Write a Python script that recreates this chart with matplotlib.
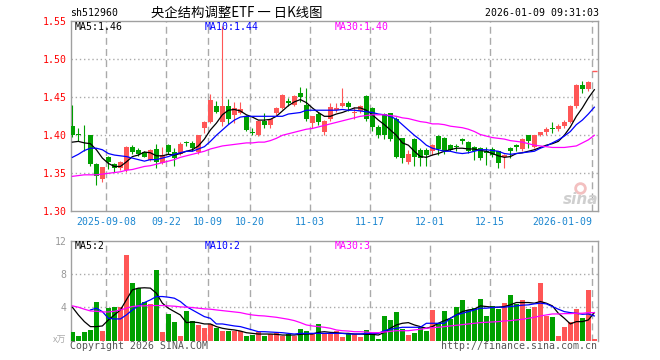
import matplotlib
matplotlib.use("Agg")
import matplotlib.pyplot as plt
import numpy as np

# daily candles, 2025-08-29 .. 2026-01-09 (88 sessions)
opens = [1.412, 1.402, 1.389, 1.400, 1.362, 1.343, 1.371, 1.362, 1.357, 1.354,
         1.385, 1.381, 1.378, 1.368, 1.382, 1.364, 1.387, 1.378, 1.375, 1.391,
         1.390, 1.378, 1.409, 1.418, 1.439, 1.418, 1.439, 1.427, 1.429, 1.425,
         1.404, 1.400, 1.419, 1.414, 1.430, 1.436, 1.445, 1.440, 1.456, 1.440,
         1.416, 1.428, 1.405, 1.421, 1.433, 1.439, 1.442, 1.430, 1.432, 1.452,
         1.436, 1.411, 1.428, 1.429, 1.422, 1.396, 1.365, 1.395, 1.381, 1.381,
         1.379, 1.399, 1.397, 1.387, 1.386, 1.395, 1.391, 1.385, 1.383, 1.379,
         1.382, 1.379, 1.372, 1.383, 1.387, 1.382, 1.400, 1.384, 1.400, 1.405,
         1.409, 1.408, 1.412, 1.418, 1.438, 1.466, 1.461, 1.485]
highs = [1.440, 1.410, 1.414, 1.400, 1.364, 1.358, 1.373, 1.364, 1.366, 1.386,
         1.387, 1.383, 1.380, 1.382, 1.389, 1.385, 1.389, 1.383, 1.391, 1.393,
         1.392, 1.401, 1.419, 1.454, 1.445, 1.544, 1.448, 1.444, 1.444, 1.427,
         1.409, 1.420, 1.430, 1.422, 1.437, 1.455, 1.449, 1.453, 1.464, 1.462,
         1.426, 1.431, 1.420, 1.442, 1.442, 1.462, 1.445, 1.437, 1.440, 1.453,
         1.437, 1.413, 1.430, 1.430, 1.424, 1.397, 1.381, 1.397, 1.383, 1.383,
         1.388, 1.400, 1.398, 1.388, 1.389, 1.396, 1.392, 1.386, 1.385, 1.385,
         1.384, 1.380, 1.375, 1.384, 1.389, 1.397, 1.401, 1.401, 1.405, 1.411,
         1.417, 1.415, 1.420, 1.440, 1.467, 1.471, 1.472, 1.485]
lows = [1.398, 1.392, 1.380, 1.359, 1.334, 1.338, 1.356, 1.352, 1.355, 1.352,
        1.376, 1.373, 1.371, 1.366, 1.357, 1.362, 1.376, 1.360, 1.374, 1.386,
        1.380, 1.376, 1.403, 1.416, 1.429, 1.412, 1.415, 1.416, 1.428, 1.406,
        1.400, 1.399, 1.409, 1.409, 1.427, 1.435, 1.439, 1.438, 1.444, 1.419,
        1.409, 1.414, 1.400, 1.419, 1.431, 1.437, 1.432, 1.422, 1.430, 1.419,
        1.406, 1.396, 1.395, 1.392, 1.370, 1.363, 1.362, 1.359, 1.360, 1.360,
        1.374, 1.374, 1.376, 1.379, 1.379, 1.388, 1.377, 1.368, 1.368, 1.361,
        1.372, 1.357, 1.357, 1.370, 1.380, 1.380, 1.383, 1.383, 1.399, 1.400,
        1.403, 1.406, 1.410, 1.416, 1.436, 1.456, 1.458, 1.485]
closes = [1.400, 1.401, 1.388, 1.362, 1.347, 1.358, 1.365, 1.357, 1.365, 1.385,
          1.378, 1.375, 1.372, 1.381, 1.365, 1.374, 1.378, 1.370, 1.389, 1.390,
          1.383, 1.400, 1.418, 1.447, 1.431, 1.439, 1.421, 1.436, 1.434, 1.407,
          1.403, 1.419, 1.414, 1.421, 1.436, 1.453, 1.443, 1.452, 1.450, 1.421,
          1.425, 1.418, 1.419, 1.437, 1.436, 1.443, 1.437, 1.431, 1.439, 1.421,
          1.411, 1.401, 1.401, 1.395, 1.371, 1.370, 1.375, 1.371, 1.370, 1.374,
          1.387, 1.382, 1.379, 1.381, 1.385, 1.392, 1.379, 1.380, 1.370, 1.377,
          1.374, 1.363, 1.374, 1.379, 1.384, 1.395, 1.392, 1.400, 1.404, 1.408,
          1.408, 1.412, 1.418, 1.439, 1.466, 1.461, 1.470, 1.485]

ma5 = [1.391, 1.392, 1.390, 1.389, 1.381, 1.370, 1.363, 1.359, 1.359, 1.365,
       1.372, 1.374, 1.378, 1.377, 1.373, 1.373, 1.375, 1.374, 1.376, 1.379,
       1.381, 1.386, 1.395, 1.407, 1.416, 1.427, 1.433, 1.434, 1.432, 1.427,
       1.424, 1.420, 1.420, 1.421, 1.425, 1.432, 1.439, 1.444, 1.447, 1.443,
       1.436, 1.430, 1.425, 1.425, 1.428, 1.430, 1.433, 1.436, 1.436, 1.433,
       1.427, 1.420, 1.414, 1.407, 1.400, 1.390, 1.387, 1.379, 1.372, 1.371,
       1.374, 1.376, 1.379, 1.381, 1.383, 1.383, 1.382, 1.382, 1.380, 1.379,
       1.376, 1.373, 1.371, 1.372, 1.376, 1.377, 1.379, 1.381, 1.384, 1.387,
       1.389, 1.392, 1.400, 1.411, 1.425, 1.436, 1.449, 1.460]
ma10 = [1.371, 1.375, 1.380, 1.383, 1.383, 1.381, 1.376, 1.374, 1.373, 1.372,
        1.370, 1.368, 1.366, 1.368, 1.368, 1.370, 1.372, 1.375, 1.377, 1.379,
        1.379, 1.382, 1.385, 1.392, 1.400, 1.407, 1.414, 1.420, 1.424, 1.425,
        1.425, 1.425, 1.425, 1.425, 1.425, 1.425, 1.428, 1.429, 1.430, 1.433,
        1.433, 1.433, 1.433, 1.433, 1.433, 1.434, 1.433, 1.433, 1.432, 1.431,
        1.430, 1.428, 1.427, 1.425, 1.421, 1.414, 1.407, 1.400, 1.394, 1.387,
        1.383, 1.381, 1.379, 1.379, 1.377, 1.376, 1.377, 1.379, 1.381, 1.381,
        1.380, 1.379, 1.376, 1.375, 1.376, 1.377, 1.378, 1.379, 1.383, 1.386,
        1.390, 1.394, 1.399, 1.405, 1.414, 1.420, 1.428, 1.437]
ma30 = [1.346, 1.347, 1.348, 1.348, 1.348, 1.349, 1.350, 1.351, 1.352, 1.354,
        1.355, 1.357, 1.359, 1.360, 1.362, 1.364, 1.366, 1.368, 1.371, 1.373,
        1.375, 1.377, 1.379, 1.382, 1.384, 1.386, 1.387, 1.388, 1.389, 1.390,
        1.390, 1.391, 1.391, 1.393, 1.396, 1.400, 1.402, 1.404, 1.406, 1.408,
        1.409, 1.411, 1.413, 1.415, 1.417, 1.419, 1.421, 1.423, 1.425, 1.426,
        1.427, 1.427, 1.427, 1.426, 1.425, 1.423, 1.422, 1.420, 1.418, 1.417,
        1.415, 1.415, 1.414, 1.412, 1.411, 1.410, 1.408, 1.405, 1.401, 1.399,
        1.397, 1.396, 1.395, 1.393, 1.392, 1.391, 1.389, 1.387, 1.386, 1.385,
        1.384, 1.384, 1.384, 1.385, 1.386, 1.390, 1.394, 1.400]

# volume, 10k lots
volume = [1.04, 0.56, 1.04, 1.29, 4.66, 1.16, 3.98, 4.06, 4.02, 10.3,
          6.95, 6.27, 4.66, 4.42, 8.51, 1.04, 3.21, 2.25, 0.56, 3.57,
          2.33, 1.93, 1.53, 2.05, 1.53, 1.16, 1.16, 1.16, 1.20, 0.56,
          0.68, 1.04, 0.56, 0.76, 0.88, 0.56, 0.76, 0.56, 1.41, 1.16,
          0.88, 2.01, 0.88, 0.88, 1.20, 0.48, 0.96, 0.76, 0.40, 1.29,
          0.96, 0.24, 2.97, 2.49, 3.45, 1.37, 0.68, 0.96, 1.61, 1.16,
          3.69, 2.17, 3.57, 2.65, 4.06, 4.90, 3.69, 3.90, 5.02, 2.97,
          4.18, 3.86, 4.50, 5.50, 4.42, 4.94, 3.82, 4.06, 6.95, 2.97,
          2.85, 0.56, 1.65, 2.25, 3.82, 2.73, 6.10, 0.20]
vma5 = [4.02, 3.09, 2.29, 1.69, 1.69, 1.77, 2.49, 3.09, 3.69, 4.90,
        6.10, 6.31, 6.35, 6.31, 5.70, 4.50, 3.90, 3.49, 3.09, 2.17,
        2.25, 2.17, 2.01, 2.01, 1.69, 1.49, 1.37, 1.29, 1.16, 0.96,
        0.88, 0.80, 0.80, 0.80, 0.76, 0.68, 0.68, 0.68, 0.76, 0.80,
        0.80, 1.00, 1.08, 1.00, 0.96, 0.88, 0.88, 0.80, 0.80, 0.76,
        0.76, 0.68, 1.00, 1.49, 1.89, 2.09, 2.17, 1.89, 1.69, 1.49,
        1.69, 2.09, 2.41, 2.69, 3.09, 3.49, 3.69, 3.78, 4.18, 4.10,
        4.02, 4.02, 4.10, 4.30, 4.58, 4.58, 4.58, 4.50, 4.70, 4.50,
        4.18, 3.29, 2.69, 2.01, 2.29, 2.29, 2.49, 3.37]
vma10 = [np.nan, np.nan, np.nan, 3.69, 3.90, 3.49, 2.69, 2.61, 2.61, 3.09,
         3.69, 4.18, 4.58, 4.90, 5.30, 5.30, 5.22, 5.10, 4.70, 4.10,
         3.69, 3.29, 2.89, 2.69, 2.01, 2.01, 1.89, 1.77, 1.69, 1.49,
         1.29, 1.08, 1.08, 1.04, 1.00, 0.96, 0.88, 0.80, 0.88, 0.88,
         0.88, 0.88, 0.88, 0.88, 0.88, 0.88, 0.80, 0.80, 0.80, 0.88,
         0.88, 0.88, 1.20, 1.37, 1.49, 1.61, 1.61, 1.61, 1.61, 2.09,
         2.09, 2.09, 2.09, 2.69, 3.09, 3.29, 3.49, 3.69, 3.90, 3.90,
         3.98, 4.02, 4.02, 4.10, 4.18, 4.26, 4.30, 4.42, 4.50, 4.42,
         4.10, 3.78, 3.49, 3.37, 3.29, 3.17, 3.21, 2.97]
vma30 = [4.18, 4.02, 3.78, 3.57, 3.53, 3.45, 3.45, 3.53, 3.69, 3.90,
         4.10, 4.18, 4.18, 4.22, 4.22, 4.22, 4.18, 4.14, 4.06, 4.02,
         3.98, 3.90, 3.82, 3.78, 3.69, 3.61, 3.53, 3.45, 3.37, 3.21,
         3.09, 3.01, 2.97, 2.89, 2.81, 2.69, 2.57, 2.41, 2.17, 1.89,
         1.77, 1.69, 1.61, 1.49, 1.29, 1.20, 1.16, 1.08, 1.08, 1.04,
         0.96, 0.96, 1.04, 1.12, 1.20, 1.20, 1.20, 1.29, 1.37, 1.49,
         1.57, 1.61, 1.69, 1.77, 1.85, 1.93, 2.01, 2.09, 2.17, 2.21,
         2.25, 2.29, 2.37, 2.41, 2.49, 2.57, 2.69, 2.81, 2.97, 3.09,
         3.21, 3.21, 3.25, 3.25, 3.29, 3.29, 3.37, 3.37]

tick_idx = [6, 16, 23, 30, 40, 50, 60, 70, 87]
tick_labels = ["2025-09-08", "09-22", "10-09", "10-20", "11-03",
               "11-17", "12-01", "12-15", "2026-01-09"]

RED = "#ff5656"
GREEN = "#00a000"
GRID = "#aaaaaa"
BLUE_TXT = "#1a86d0"
MONO = "DejaVu Sans Mono"
CJK = ["Noto Sans CJK SC", "DejaVu Sans"]

W, H = 660, 360
fig = plt.figure(figsize=(6.6, 3.6), dpi=100)


def fx(px):
    return px / W


def fy(py):
    return 1 - py / H


ax = fig.add_axes([fx(70.7), fy(211.3), 527 / W, 190 / H])
axv = fig.add_axes([fx(70.7), fy(340.7), 527 / W, 100 / H])

n = len(closes)
x = np.arange(n)
o = np.array(opens)
c = np.array(closes)
up = c >= o
colors = [RED if u else GREEN for u in up]

# candles
ax.vlines(x, lows, highs, colors=colors, lw=0.8, zorder=3)
body = np.abs(c - o)
flat = body < 0.0008
ax.bar(x[~flat], body[~flat], bottom=np.minimum(o, c)[~flat], width=0.8,
       color=np.array(colors)[~flat], zorder=4, linewidth=0)
ax.hlines(c[flat], x[flat] - 0.4, x[flat] + 0.4,
          colors=np.array(colors)[flat], lw=1.0, zorder=4)

ax.plot(x, ma5, color="black", lw=0.9, zorder=5)
ax.plot(x, ma10, color="#0000ff", lw=0.9, zorder=5)
ax.plot(x, ma30, color="#ff00ff", lw=0.9, zorder=5)

# volume
axv.bar(x, volume, width=0.8, color=colors, linewidth=0, zorder=3)
axv.plot(x, vma5, color="black", lw=0.9, zorder=5)
axv.plot(x, vma10, color="#0000ff", lw=0.9, zorder=5)
axv.plot(x, vma30, color="#ff00ff", lw=0.9, zorder=5)

xlim = (-0.28, 87.56)
grid_x = [i - 0.4 for i in tick_idx]
for a in (ax, axv):
    a.set_xlim(*xlim)
    for gx in grid_x:
        a.axvline(gx, color=GRID, lw=1, ls=(0, (5, 3)), zorder=1)
    for s in a.spines.values():
        s.set_color("#a0a0a0")
        s.set_linewidth(1)
    a.tick_params(length=0)

ax.set_ylim(1.30, 1.55)
price_ticks = [1.30, 1.35, 1.40, 1.45, 1.50, 1.55]
ax.set_yticks(price_ticks)
ax.set_yticklabels(["%.2f" % t for t in price_ticks], color="red",
                   fontfamily=MONO, fontsize=7.1)
ax.tick_params(axis="y", pad=3)
for t in price_ticks[1:-1]:
    ax.axhline(t, color=GRID, lw=1, ls=(0, (1, 2)), zorder=1)

ax.set_xticks(grid_x)
ax.set_xticklabels(tick_labels, color=BLUE_TXT, fontfamily=MONO, fontsize=7.1)
ax.tick_params(axis="x", pad=4)
ax.get_xticklabels()[-1].set_horizontalalignment("right")

axv.set_ylim(0, 12)
axv.set_yticks([4, 8, 12])
axv.set_yticklabels(["4", "8", "12"], color="#999999", fontfamily=MONO, fontsize=7.1)
axv.tick_params(axis="y", pad=3)
axv.set_xticks([])
axv.spines["bottom"].set_visible(False)
for t in (4, 8):
    axv.axhline(t, color=GRID, lw=1, ls=(0, (1, 2)), zorder=1)

# header
fig.text(fx(70), fy(13), "sh512960", fontfamily=MONO, fontsize=7.1, va="center")
fig.text(fx(151), fy(13), "央企结构调整ETF 一 日K线图", family=CJK, fontsize=9.6, va="center")
fig.text(fx(599), fy(13), "2026-01-09 09:31:03", fontfamily=MONO, fontsize=7.1,
         va="center", ha="right")

# MA legends
fig.text(fx(75), fy(27), "MA5:1.46", color="black", fontfamily=MONO, fontsize=7.1, va="center")
fig.text(fx(205), fy(27), "MA10:1.44", color="#0000ff", fontfamily=MONO, fontsize=7.1, va="center")
fig.text(fx(335), fy(27), "MA30:1.40", color="#ff00ff", fontfamily=MONO, fontsize=7.1, va="center")
fig.text(fx(75), fy(246), "MA5:2", color="black", fontfamily=MONO, fontsize=7.1, va="center")
fig.text(fx(205), fy(246), "MA10:2", color="#0000ff", fontfamily=MONO, fontsize=7.1, va="center")
fig.text(fx(335), fy(246), "MA30:3", color="#ff00ff", fontfamily=MONO, fontsize=7.1, va="center")

# footer
fig.text(fx(66), fy(340), "x万", family=CJK, color="#aaaaaa", fontsize=6.5,
         va="center", ha="right")
fig.text(fx(70), fy(346), "Copyright 2026 SINA.COM", color="#555555",
         fontfamily=MONO, fontsize=7.1, va="center")
fig.text(fx(597), fy(346), "http://finance.sina.com.cn", color="#555555",
         fontfamily=MONO, fontsize=7.1, va="center", ha="right")

# watermark
fig.text(fx(581), fy(200), "sina", color="#cfcfcf", fontsize=11, fontweight="bold",
         fontstyle="italic", ha="center", va="center")
fig.add_artist(plt.Line2D([fx(580)], [fy(188)], transform=fig.transFigure,
                          marker="o", markersize=7, mfc="none", mec="#f3c0c0", mew=2))

fig.savefig("out.png", dpi=100)
